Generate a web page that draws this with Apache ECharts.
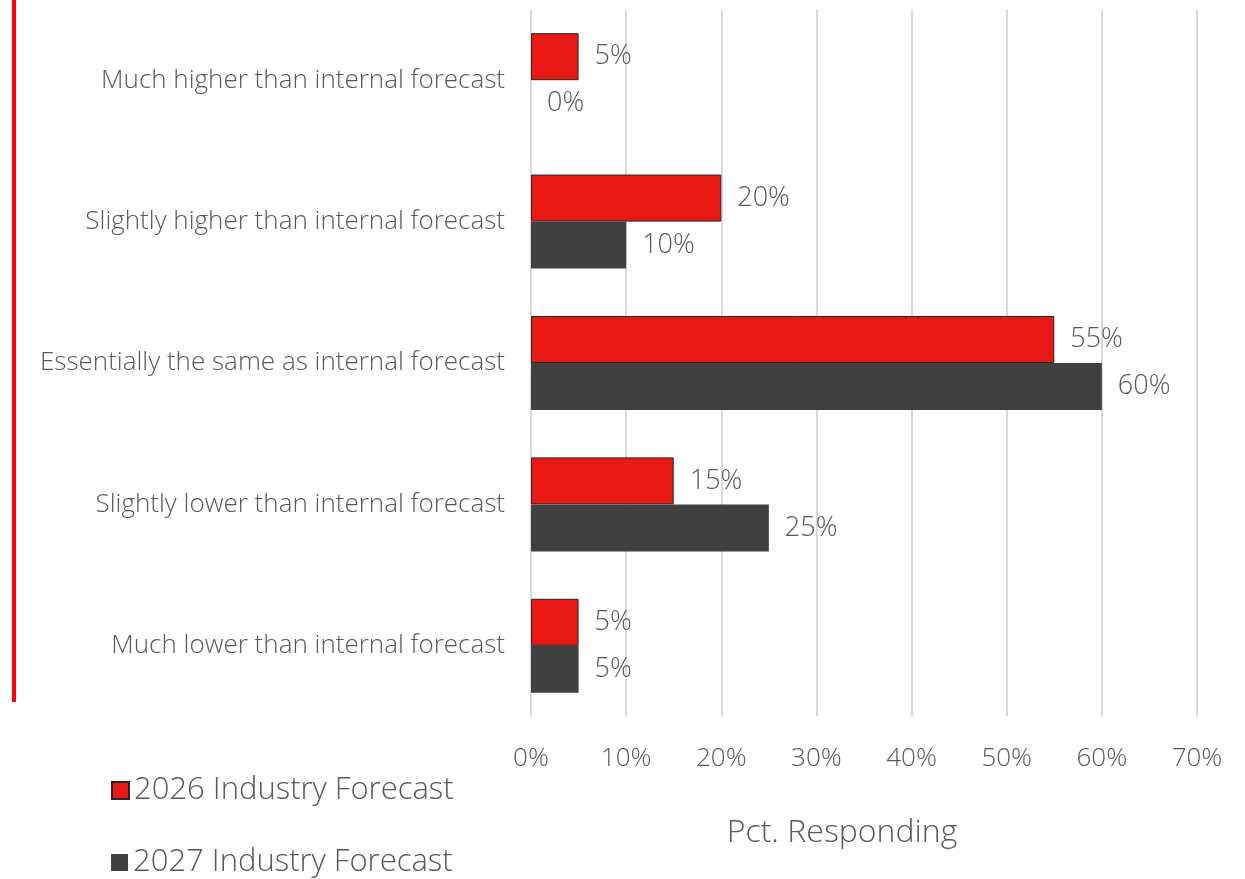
<!DOCTYPE html>
<html>
<head>
<meta charset="utf-8">
<script src="https://cdn.jsdelivr.net/npm/echarts@6/dist/echarts.min.js"></script>
<style>
  html, body { margin: 0; padding: 0; background: #fff; }
  #chart { width: 1245px; height: 879px; }
</style>
</head>
<body>
<div id="chart"></div>
<script>
// Survey responses: industry forecast vs. internal forecast
const categories = [
  'Much higher than internal forecast',
  'Slightly higher than internal forecast',
  'Essentially the same as internal forecast',
  'Slightly lower than internal forecast',
  'Much lower than internal forecast'
];
const forecast2026 = [5, 20, 55, 15, 5];
const forecast2027 = [0, 10, 60, 25, 5];
const seriesNames = ['2026 Industry Forecast', '2027 Industry Forecast'];
const xTicks = [0, 10, 20, 30, 40, 50, 60, 70];

const FONT = 'Open Sans';
const TEXT = '#595959';

const chart = echarts.init(document.getElementById('chart'), null, { renderer: 'canvas' });

const labelStyle = {
  show: true,
  position: 'right',
  distance: 16,
  formatter: p => p.value + '%',
  color: TEXT,
  fontFamily: FONT,
  fontWeight: 300,
  fontSize: 27
};

// one legend block per series, stacked under the category labels
const legendBlock = (name, top) => ({
  orient: 'vertical',
  left: 106,
  top: top,
  itemWidth: 17,
  itemHeight: 17,
  icon: 'rect',
  data: [name],
  textStyle: { color: TEXT, fontFamily: FONT, fontWeight: 300, fontSize: 31 }
});

chart.setOption({
  animation: false,
  textStyle: { fontFamily: FONT },
  graphic: [
    {
      type: 'rect',
      shape: { x: 12, y: 0, width: 4, height: 702 },
      style: { fill: '#ff0000' },
      silent: true
    }
  ],
  grid: { left: 531, right: 48, top: 9.5, bottom: 162.5, containLabel: false },
  legend: [legendBlock(seriesNames[0], 770), legendBlock(seriesNames[1], 842)],
  xAxis: {
    type: 'value',
    min: xTicks[0],
    max: xTicks[xTicks.length - 1],
    interval: 10,
    axisLine: { show: false },
    axisTick: { show: false },
    splitLine: { show: true, lineStyle: { color: '#d9d9d9', width: 2 } },
    axisLabel: {
      formatter: v => v + '%',
      color: TEXT,
      fontFamily: FONT,
      fontWeight: 300,
      fontSize: 26,
      margin: 29
    },
    name: 'Pct. Responding',
    nameLocation: 'middle',
    nameGap: 100,
    nameTextStyle: {
      color: TEXT,
      fontFamily: FONT,
      fontWeight: 300,
      fontSize: 32,
      padding: [0, 44, 0, 0]
    }
  },
  yAxis: {
    type: 'category',
    inverse: true,
    data: categories,
    axisLine: { show: false },
    axisTick: { show: false },
    splitLine: { show: false },
    axisLabel: { color: TEXT, fontFamily: FONT, fontWeight: 300, fontSize: 26, margin: 26 }
  },
  series: [
    {
      name: seriesNames[0],
      type: 'bar',
      data: forecast2026,
      barGap: '0%',
      barCategoryGap: '33.5%',
      itemStyle: { color: '#e81914', borderColor: '#262626', borderWidth: 1 },
      label: labelStyle
    },
    {
      name: seriesNames[1],
      type: 'bar',
      data: forecast2027,
      itemStyle: { color: '#404040' },
      label: labelStyle
    }
  ]
});
</script>
</body>
</html>
